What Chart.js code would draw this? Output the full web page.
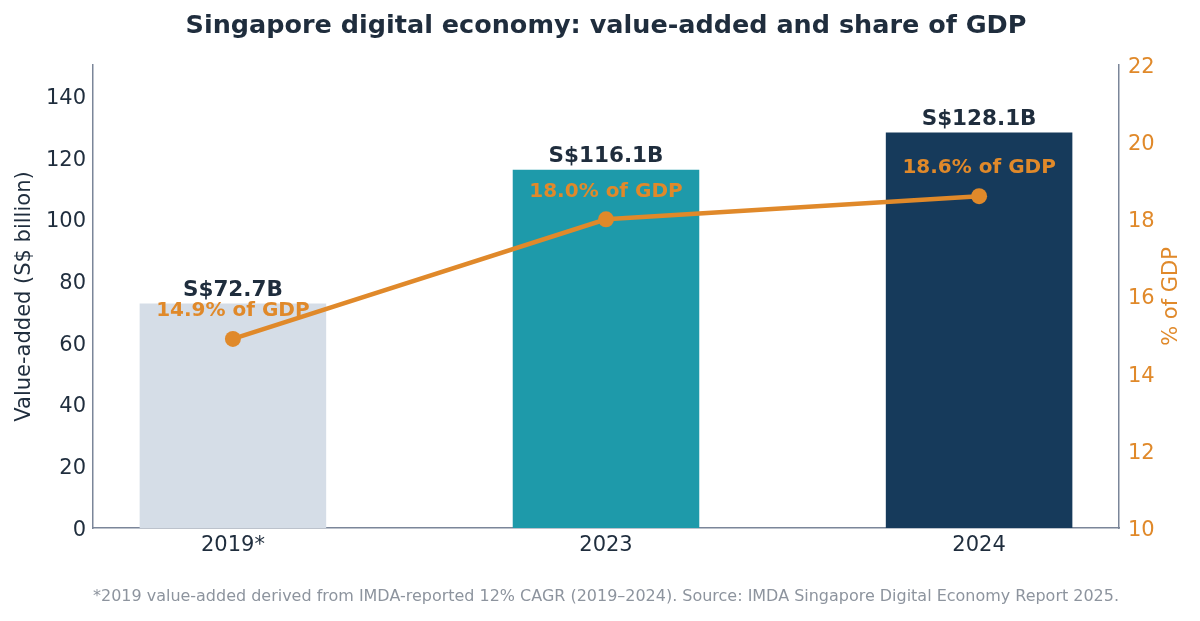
<!DOCTYPE html>
<html>
<head>
<meta charset="utf-8">
<script src="https://cdn.jsdelivr.net/npm/chart.js@4.4.1/dist/chart.umd.min.js"></script>
<style>
  html, body { margin: 0; padding: 0; background: #ffffff; }
  #wrap { width: 1200px; height: 621px; }
</style>
</head>
<body>
<div id="wrap"><canvas id="chart" width="1200" height="621"></canvas></div>
<script>
const years = ['2019*', '2023', '2024'];
const valueAdded = [72.7, 116.1, 128.1];
const gdpShare = [14.9, 18.0, 18.6];
const barLabels = ['S$72.7B', 'S$116.1B', 'S$128.1B'];
const shareLabels = ['14.9% of GDP', '18.0% of GDP', '18.6% of GDP'];

const barColors = ['#d5dde7', '#1e9aaa', '#163a5b'];
const orange = '#e0892a';
const navy = '#1f2d3d';
const spine = '#7b8699';
const FONT = "'DejaVu Sans', sans-serif";

const ctx = document.getElementById('chart');

const labelPlugin = {
    id: 'valueLabels',
    afterDatasetsDraw(chart) {
        const c = chart.ctx;
        const bars = chart.getDatasetMeta(0).data;
        const pts = chart.getDatasetMeta(1).data;
        c.save();
        c.textAlign = 'center';
        c.textBaseline = 'middle';
        c.font = 'bold 21.5px ' + FONT;
        c.fillStyle = navy;
        bars.forEach((b, i) => c.fillText(barLabels[i], b.x, b.y - 13));
        c.font = 'bold 20px ' + FONT;
        c.fillStyle = orange;
        pts.forEach((p, i) => c.fillText(shareLabels[i], p.x, p.y - 28));
        // right axis title, reads bottom to top
        const area = chart.chartArea;
        c.translate(1172, (area.top + area.bottom) / 2);
        c.rotate(-Math.PI / 2);
        c.font = '21px ' + FONT;
        c.fillText('% of GDP', 0, 0);
        c.restore();
    }
};

let mainChart = new Chart(ctx, {
    type: 'bar',
    data: {
        datasets: [
            {
                type: 'bar',
                data: valueAdded.map((v, i) => ({x: i, y: v})),
                backgroundColor: barColors,
                borderWidth: 0,
                barPercentage: 0.5,
                categoryPercentage: 1,
                yAxisID: 'y',
                order: 1,
            },
            {
                type: 'line',
                data: gdpShare.map((v, i) => ({x: i, y: v})),
                borderColor: orange,
                backgroundColor: orange,
                borderWidth: 4.5,
                pointRadius: 8,
                pointHoverRadius: 8,
                pointBorderWidth: 0,
                tension: 0,
                yAxisID: 'y2',
                order: 0,
            }
        ]
    },
    options: {
        responsive: false,
        animation: false,
        events: [],
        layout: { padding: 0 },
        plugins: {
            legend: { display: false },
            tooltip: { enabled: false },
            title: {
                display: true,
                text: 'Singapore digital economy: value-added and share of GDP',
                color: navy,
                font: { family: FONT, size: 25.5, weight: 'bold' },
                padding: { top: 11, bottom: 23.4 },
                fullSize: false,
            },
            subtitle: {
                display: true,
                position: 'bottom',
                text: '*2019 value-added derived from IMDA-reported 12% CAGR (2019\u20132024). Source: IMDA Singapore Digital Economy Report 2025.',
                color: '#8d949e',
                font: { family: FONT, size: 16 },
                padding: { top: 14.5, bottom: 14.3 },
                fullSize: false,
            }
        },
        scales: {
            x: {
                type: 'linear',
                min: -0.375,
                max: 2.375,
                offset: false,
                grid: { display: false, drawTicks: false },
                border: { display: true, color: spine, width: 1.5 },
                afterBuildTicks: (scale) => { scale.ticks = [0, 1, 2].map(v => ({value: v})); },
                afterFit: (scale) => { scale.height = 45; },
                ticks: {
                    color: navy,
                    font: { family: FONT, size: 21 },
                    padding: 5,
                    autoSkip: false,
                    maxRotation: 0,
                    callback: (v) => years[v] !== undefined ? years[v] : '',
                },
            },
            y: {
                position: 'left',
                min: 0,
                max: 150,
                grid: { display: false, drawTicks: false },
                border: { display: true, color: spine, width: 1.5 },
                afterBuildTicks: (scale) => { scale.ticks = scale.ticks.filter(t => t.value <= 140); },
                afterFit: (scale) => { scale.width = 93; },
                ticks: {
                    stepSize: 20,
                    color: navy,
                    font: { family: FONT, size: 21 },
                    padding: 7,
                    labelOffset: 2.5,
                },
                title: {
                    display: true,
                    text: 'Value-added (S$ billion)',
                    color: navy,
                    font: { family: FONT, size: 21 },
                    padding: { top: 11.5, bottom: 4 },
                },
            },
            y2: {
                position: 'right',
                min: 10,
                max: 22,
                grid: { display: false, drawTicks: false },
                border: { display: true, color: spine, width: 1.5 },
                afterFit: (scale) => { scale.width = 81; },
                ticks: {
                    stepSize: 2,
                    color: orange,
                    font: { family: FONT, size: 21 },
                    padding: 9,
                    labelOffset: 2.5,
                },
            }
        }
    },
    plugins: [labelPlugin]
});
</script>
</body>
</html>
